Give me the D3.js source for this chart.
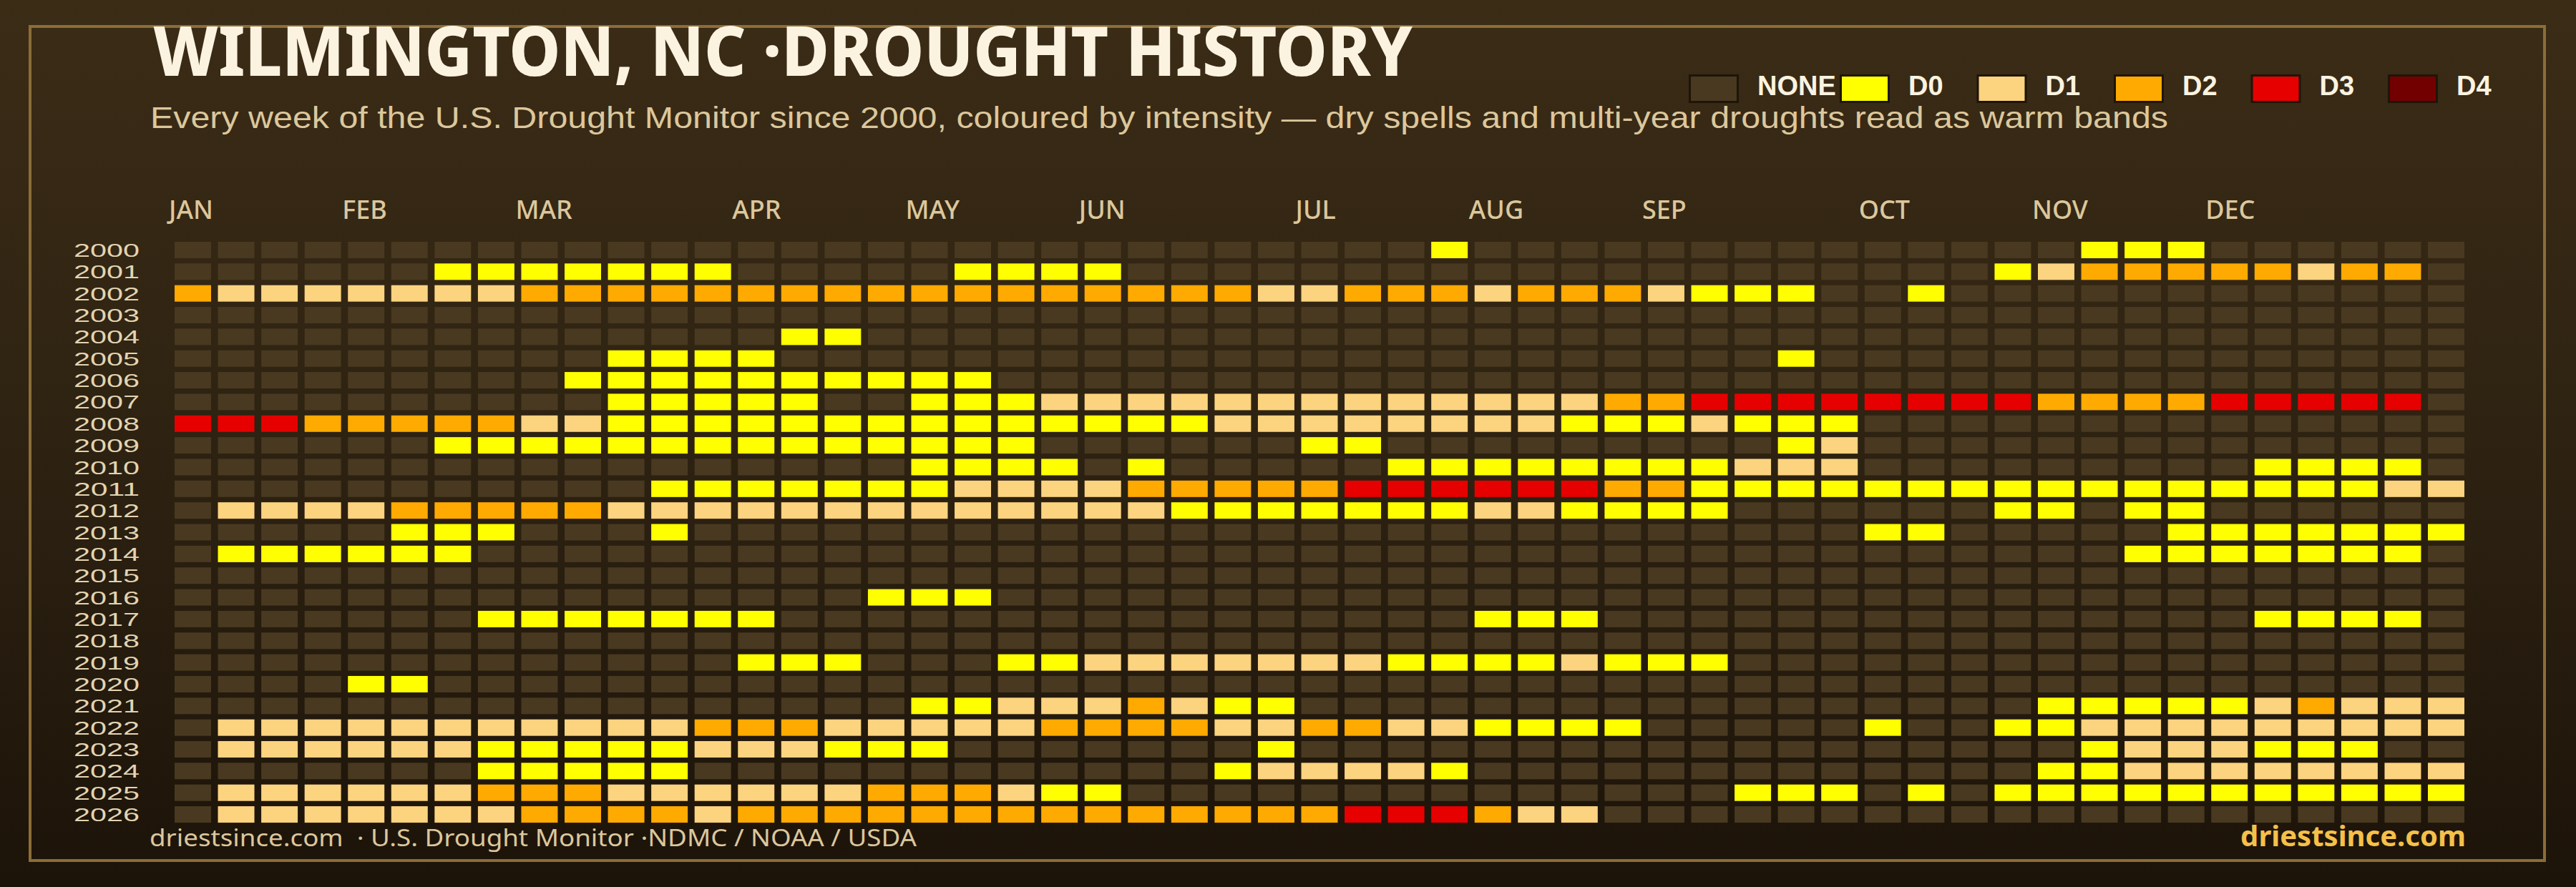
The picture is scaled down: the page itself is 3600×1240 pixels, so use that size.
<!DOCTYPE html>
<html>
<head>
<meta charset="utf-8">
<script src="https://cdn.jsdelivr.net/npm/d3@7"></script>
<style>
  html, body { margin: 0; padding: 0; background: #1d1409; }
  svg { display: block; }
  text { white-space: pre; }
</style>
</head>
<body>
<svg id="chart" width="3600" height="1240"></svg>
<script>
// ---------------- DATA ----------------
const years = d3.range(2000, 2027);
const weekCount = 53;
// weekly USDM category per year: '.' = none, '0'..'4' = D0..D4
const codes2000 = ".........." + ".........." + ".........0" + ".........." + "....000..." + "...";
const codes2001 = "......0000" + "000.....00" + "00........" + ".........." + "..01222221" + "22.";
const codes2002 = "2111111122" + "2222222222" + "2222211222" + "12221000.." + "0........." + "...";
const codes2003 = ".........." + ".........." + ".........." + ".........." + ".........." + "...";
const codes2004 = ".........." + "....00...." + ".........." + ".........." + ".........." + "...";
const codes2005 = ".........." + "0000......" + ".........." + ".......0.." + ".........." + "...";
const codes2006 = ".........0" + "000000000." + ".........." + ".........." + ".........." + "...";
const codes2007 = ".........." + "00000..000" + "1111111111" + "1112233333" + "3332222333" + "33.";
const codes2008 = "3332222211" + "0000000000" + "0000111111" + "110001000." + ".........." + "...";
const codes2009 = "......0000" + "0000000000" + "......00.." + ".......01." + ".........." + "...";
const codes2010 = ".........." + ".......000" + "0.0.....00" + "000000111." + "........00" + "00.";
const codes2011 = ".........." + ".000000011" + "1122222333" + "3332200000" + "0000000000" + "011";
const codes2012 = ".111122222" + "1111111111" + "1110000000" + "110000...." + "..00.00..." + "...";
const codes2013 = ".....000.." + ".0........" + ".........." + ".........0" + "0.....0000" + "000";
const codes2014 = ".000000..." + ".........." + ".........." + ".........." + ".....00000" + "00.";
const codes2015 = ".........." + ".........." + ".........." + ".........." + ".........." + "...";
const codes2016 = ".........." + "......000." + ".........." + ".........." + ".........." + "...";
const codes2017 = ".......000" + "0000......" + ".........." + "000......." + "........00" + "00.";
const codes2018 = ".........." + ".........." + ".........." + ".........." + ".........." + "...";
const codes2019 = ".........." + "...000...0" + "0111111100" + "001000...." + ".........." + "...";
const codes2020 = "....00...." + ".........." + ".........." + ".........." + ".........." + "...";
const codes2021 = ".........." + ".......001" + "112100...." + ".........." + "...0000012" + "111";
const codes2022 = ".111111111" + "1122211111" + "2222112211" + "0000.....0" + "..00111111" + "111";
const codes2023 = ".111111000" + "00111000.." + ".....0...." + ".........." + "....011100" + "0..";
const codes2024 = ".......000" + "00........" + "....011110" + ".........." + "...0011111" + "111";
const codes2025 = ".111111222" + "1111112221" + "00........" + "......000." + "0.00000000" + "000";
const codes2026 = ".111111122" + "2212222222" + "2222222333" + "211......." + ".........." + "...";

const yearCodes = [codes2000, codes2001, codes2002, codes2003, codes2004, codes2005, codes2006,
  codes2007, codes2008, codes2009, codes2010, codes2011, codes2012, codes2013, codes2014,
  codes2015, codes2016, codes2017, codes2018, codes2019, codes2020, codes2021, codes2022,
  codes2023, codes2024, codes2025, codes2026];

const monthLabels = ["JAN","FEB","MAR","APR","MAY","JUN","JUL","AUG","SEP","OCT","NOV","DEC"];
const monthWeeks  = [0, 4, 8, 13, 17, 21, 26, 30, 34, 39, 43, 47];

const categories = ["NONE", "D0", "D1", "D2", "D3", "D4"];
const categoryColors = ["#483920", "#ffff00", "#fcd37f", "#ffaa00", "#e60000", "#730000"];

const titleText = "WILMINGTON, NC \u00B7DROUGHT HISTORY";
const subtitleText = "Every week of the U.S. Drought Monitor since 2000, coloured by intensity \u2014 dry spells and multi-year droughts read as warm bands";
const footerLeft = "driestsince.com  \u00B7 U.S. Drought Monitor \u00B7NDMC / NOAA / USDA";
const footerRight = "driestsince.com";

// ---------------- BUILD ----------------
const cells = [];
yearCodes.forEach((s, yi) => {
  for (let w = 0; w < weekCount; w++) {
    const ch = s[w] || ".";
    cells.push({ year: years[yi], week: w, cat: ch === "." ? 0 : (+ch + 1) });
  }
});

const svg = d3.select("#chart");
const W = 3600, H = 1240;

const defs = svg.append("defs");
const grad = defs.append("linearGradient").attr("id", "bg").attr("x1", 0).attr("y1", 0).attr("x2", 0).attr("y2", 1);
grad.append("stop").attr("offset", "0%").attr("stop-color", "#3b2c16");
grad.append("stop").attr("offset", "55%").attr("stop-color", "#2c2111");
grad.append("stop").attr("offset", "100%").attr("stop-color", "#1c1309");
svg.append("rect").attr("width", W).attr("height", H).attr("fill", "url(#bg)");

// frame
svg.append("rect").attr("x", 42).attr("y", 37).attr("width", 3514).attr("height", 1166)
  .attr("fill", "none").attr("stroke", "#8c6d38").attr("stroke-width", 4);

const font = "'Noto Sans', 'Open Sans', sans-serif";
const tight = "'Liberation Sans', Arial, sans-serif";

// title
svg.append("text").attr("x", 214).attr("y", 106)
  .attr("font-family", font).attr("font-weight", 800).attr("font-size", 96)
  .attr("fill", "#fbf3e0").attr("textLength", 1760).attr("lengthAdjust", "spacingAndGlyphs")
  .text(titleText);

svg.append("text").attr("x", 210).attr("y", 179)
  .attr("font-family", tight).attr("font-weight", 400).attr("font-size", 42)
  .attr("fill", "#dcc79c").attr("textLength", 2820).attr("lengthAdjust", "spacingAndGlyphs")
  .text(subtitleText);

// scales
const x = d3.scaleBand().domain(d3.range(weekCount)).range([239.2, 3448.8]).paddingInner(0.158).paddingOuter(0.079);
const y = d3.scaleBand().domain(years).range([334.3, 1153.75]).paddingInner(0.242).paddingOuter(0.121);
const color = d3.scaleOrdinal().domain(d3.range(categories.length)).range(categoryColors);

// cells
svg.append("g").selectAll("rect").data(cells).join("rect")
  .attr("x", d => x(d.week)).attr("y", d => y(d.year))
  .attr("width", x.bandwidth()).attr("height", y.bandwidth())
  .attr("fill", d => color(d.cat));

// month labels
svg.append("g").selectAll("text").data(monthLabels).join("text")
  .attr("x", (d, i) => x(monthWeeks[i]) - 8).attr("y", 306)
  .attr("font-family", font).attr("font-weight", 500).attr("font-size", 36)
  .attr("fill", "#dcc79c").text(d => d);

// year labels
const yAxis = d3.axisLeft(y).tickSize(0).tickPadding(0);
const yg = svg.append("g").attr("transform", "translate(195,0)").call(yAxis);
yg.select(".domain").remove();
yg.selectAll("text").attr("font-family", tight).attr("font-weight", 400).attr("font-size", 26.5)
  .attr("fill", "#e2d4b2").attr("dy", "0.36em")
  .attr("textLength", 92).attr("lengthAdjust", "spacingAndGlyphs");

// legend
const legend = svg.append("g");
categories.forEach((c, i) => {
  const lx = i === 0 ? 2360 : 2571 + (i - 1) * 191.5;
  legend.append("rect").attr("x", lx + 1.5).attr("y", 105.5).attr("width", 67).attr("height", 37)
    .attr("fill", categoryColors[i]).attr("stroke", "#1e1509").attr("stroke-width", 3);
  legend.append("text").attr("x", lx + 96).attr("y", 133)
    .attr("font-family", tight).attr("font-weight", 700).attr("font-size", 38)
    .attr("fill", "#fbf3e0").text(c);
});

// footer
svg.append("text").attr("x", 209).attr("y", 1183)
  .attr("font-family", font).attr("font-weight", 400).attr("font-size", 33)
  .attr("fill", "#dcc79c").attr("textLength", 1072).attr("lengthAdjust", "spacingAndGlyphs")
  .text(footerLeft);
svg.append("text").attr("x", 3446).attr("y", 1183).attr("text-anchor", "end")
  .attr("font-family", font).attr("font-weight", 700).attr("font-size", 40)
  .attr("fill", "#f5c04a")
  .text(footerRight);
</script>
</body>
</html>
